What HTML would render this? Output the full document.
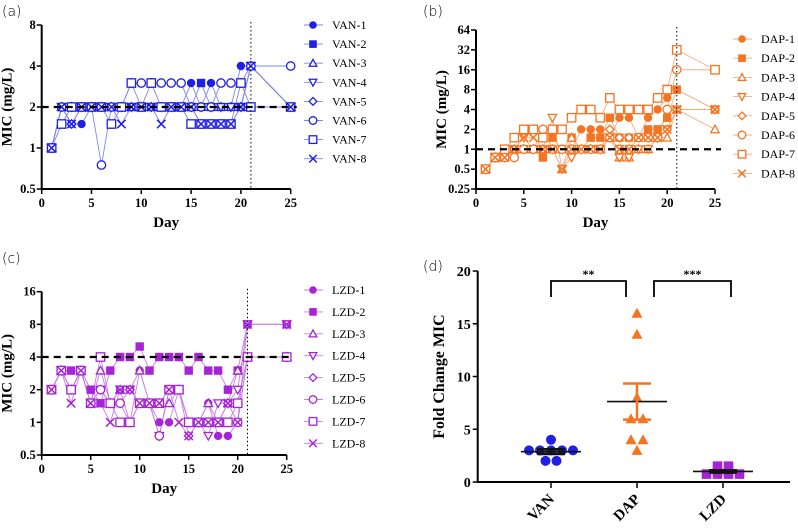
<!DOCTYPE html>
<html><head><meta charset="utf-8"><style>
body{margin:0;background:#fff}
svg{display:block}
.tk{font-family:"Liberation Serif",serif;font-weight:bold;font-size:12.5px}
.tt{font-family:"Liberation Serif",serif;font-weight:bold;font-size:15px}
.lg{font-family:"Liberation Serif",serif;font-size:12px}
.pl{font-family:"DejaVu Sans",sans-serif;font-size:14px;font-weight:200}
</style></head><body>
<svg id="s" width="798" height="529" viewBox="0 0 798 529" xmlns="http://www.w3.org/2000/svg"></svg>
<script>
const days=[1,2,3,4,5,6,7,8,9,10,11,12,13,14,15,16,17,18,19,20,21,25];
const vanNames=["VAN-1","VAN-2","VAN-3","VAN-4","VAN-5","VAN-6","VAN-7","VAN-8"];
const vanData=[
[1,2,1.5,1.5,2,2,2,2,2,2,2,2,2,2,3,2,3,2,2,4,4,2],
[1,2,2,2,2,2,2,2,2,2,2,2,2,2,2,3,2,2,2,2,4,2],
[1,2,2,2,2,2,2,2,2,2,2,2,2,2,2,2,2,2,2,2,4,2],
[1,2,2,2,2,2,2,2,2,2,2,2,2,2,2,2,2,2,2,2,4,2],
[1,2,1.5,2,2,2,2,2,2,2,2,2,2,2,2,1.5,1.5,1.5,1.5,2,4,2],
[1,2,2,2,2,0.75,2,2,3,3,3,3,3,3,2,2,2,3,3,3,4,4],
[1,1.5,2,2,2,2,1.5,2,3,2,3,2,2,2,1.5,1.5,1.5,1.5,1.5,3,2,2],
[1,2,1.5,2,2,2,2,1.5,2,2,2,1.5,2,2,2,1.5,1.5,1.5,1.5,2,4,2]];
const dapNames=["DAP-1","DAP-2","DAP-3","DAP-4","DAP-5","DAP-6","DAP-7","DAP-8"];
const dapData=[
[0.5,0.75,0.75,1,1,1,1,1,1,1,2,2,2,1.5,3,3,1.5,3,4,6,8,4],
[0.5,0.75,0.75,1,1,1,0.75,1.5,1,1.5,1,1.5,1.5,3,1.5,1.5,1.5,2,2,3,8,4],
[0.5,0.75,0.75,1,1,1,1,1,0.5,1.5,1,1,1,1.5,0.75,0.75,1,1,1.5,1.5,4,2],
[0.5,0.75,0.75,1,1.5,1,1,3,0.5,0.75,1,1,1,1.5,0.75,0.75,1,1,1.5,2,4,4],
[0.5,0.75,1,1,1,1,1,1,1,1,1,1,1,2,1.5,1.5,1.5,1.5,1.5,2,4,4],
[0.5,0.75,0.75,0.75,1,1,2,1,1,1,1,1,1,1.5,1,1,1.5,1.5,1.5,4,16,16],
[0.5,0.75,1,1.5,2,2,1.5,2,2,3,4,4,3,6,4,4,4,4,6,8,32,16],
[0.5,0.75,0.75,1,1.5,1.5,1,1,0.5,1,1,1,1,1.5,1,1,1.5,1.5,1.5,2,4,4]];
const lzdNames=["LZD-1","LZD-2","LZD-3","LZD-4","LZD-5","LZD-6","LZD-7","LZD-8"];
const lzdData=[
[2,3,2,3,2,2,1.5,2,2,3,1.5,1,1,2,1,1,1.5,0.75,0.75,1,4,4],
[2,3,3,3,2,1.5,3,4,4,5,3,4,4,4,3,4,3,3,2,3,8,8],
[2,3,2,3,1.5,3,1.5,2,1,3,1.5,1.5,1.5,2,1,1,1.5,1,1.5,3,4,4],
[2,3,2,3,1.5,2,1.5,2,2,1.5,1.5,0.75,2,2,1,1,0.75,1.5,1.5,2,8,8],
[2,3,2,3,1.5,2,1.5,1.5,2,1.5,1.5,0.75,2,2,0.75,1,1,1,1.5,1.5,4,4],
[2,3,2,3,1.5,2,1.5,1.5,1,1.5,1.5,0.75,2,2,1,1,1,1,1,1,4,4],
[2,3,2,3,1.5,4,1.5,1,1,1.5,1.5,1.5,2,2,1,1,1,1,1,1.5,4,4],
[2,3,1.5,3,1.5,1.5,1,2,2,1.5,1.5,1.5,2,1,0.75,1,1,1,1.5,1,8,8]];
const xTicks=[0,5,10,15,20,25];
const vanYTicks=[0.5,1,2,4,8];
const dapYTicks=[0.25,0.5,1,2,4,8,16,32,64];
const lzdYTicks=[0.5,1,2,4,8,16];
const foldCats=["VAN","DAP","LZD"];
const foldVan=[3,3,3,3,3,4,2,2];
const foldDap=[16,14,8,6,6,4,4,3];
const foldLzd=[1.5,1,1.5,1,0.75,0.75,0.75,0.75];
const foldYTicks=[0,5,10,15,20];

const S=document.getElementById('s');
const NS="http://www.w3.org/2000/svg";
function mk(tag,at,par){const e=document.createElementNS(NS,tag);for(const k in at)e.setAttribute(k,at[k]);(par||S).appendChild(e);return e;}

function marker(g,type,x,y,c,r){
  r=r||4.2;let e;
  if(type==0)e=mk('circle',{cx:x,cy:y,r:r,fill:c},g);
  else if(type==1)e=mk('rect',{x:x-r,y:y-r,width:2*r,height:2*r,fill:c},g);
  else if(type==2)e=mk('polygon',{points:`${x},${y-r} ${x+r},${y+r*0.8} ${x-r},${y+r*0.8}`,fill:'#fff',stroke:c,'stroke-width':1.3},g);
  else if(type==3)e=mk('polygon',{points:`${x},${y+r} ${x+r},${y-r*0.8} ${x-r},${y-r*0.8}`,fill:'#fff',stroke:c,'stroke-width':1.3},g);
  else if(type==4)e=mk('polygon',{points:`${x},${y-r} ${x+r},${y} ${x},${y+r} ${x-r},${y}`,fill:'#fff',stroke:c,'stroke-width':1.3},g);
  else if(type==5)e=mk('circle',{cx:x,cy:y,r:r,fill:'#fff',stroke:c,'stroke-width':1.3},g);
  else if(type==6)e=mk('rect',{x:x-r,y:y-r,width:2*r,height:2*r,fill:'#fff',stroke:c,'stroke-width':1.3},g);
  else {e=mk('path',{d:`M${x-r},${y-r}L${x+r},${y+r}M${x+r},${y-r}L${x-r},${y+r}`,stroke:c,'stroke-width':1.5,fill:'none'},g);}
  
  
  return e;
}

function linePanel(o){
  const g=mk('g',{});
  
  
  const lmin=Math.log2(o.ymin),lmax=Math.log2(o.ymax);
  const X=d=>o.x0+(o.x1-o.x0)*d/25;
  const Y=v=>o.yb-(o.yb-o.yt)*(Math.log2(v)-lmin)/(lmax-lmin);
  o.data.forEach((s,i)=>{
    const pl=mk('polyline',{points:s.map((v,j)=>X(days[j])+','+Y(v)).join(' '),fill:'none',stroke:o.lc,'stroke-width':0.9},g);
    
    
  });
  o.data.forEach((s,i)=>s.forEach((v,j)=>marker(g,i,X(days[j]),Y(v),o.c)));
  const ref=mk('line',{x1:o.x0,x2:X(25)+6,y1:Y(o.ref),y2:Y(o.ref),stroke:'#000','stroke-width':2.2,'stroke-dasharray':'7,5'},g);
  
  
  const vl=mk('line',{x1:X(21),x2:X(21),y1:o.yt-3,y2:o.yb,stroke:'#000','stroke-width':1,'stroke-dasharray':'1.5,2.5'},g);
  
  
  const ya=mk('line',{x1:o.x0,x2:o.x0,y1:o.yt,y2:o.yb+1,stroke:'#000','stroke-width':2},g);
  
  
  const xa=mk('line',{x1:o.x0-1,x2:o.x1,y1:o.yb,y2:o.yb,stroke:'#000','stroke-width':2},g);
  
  
  o.yt_.forEach(t=>{
    mk('line',{x1:o.x0-5,x2:o.x0,y1:Y(t),y2:Y(t),stroke:'#000','stroke-width':1.5},g);
    const tx=mk('text',{x:o.x0-6,y:Y(t)+4,'text-anchor':'end',class:'tk'},g);tx.textContent=t;
    
    
  });
  xTicks.forEach(t=>{
    mk('line',{x1:X(t),x2:X(t),y1:o.yb,y2:o.yb+5,stroke:'#000','stroke-width':1.5},g);
    const tx=mk('text',{x:X(t),y:o.yb+18,'text-anchor':'middle',class:'tk'},g);tx.textContent=t;
    
    
  });
  const xt=mk('text',{x:(o.x0+o.x1)/2,y:o.yb+38,'text-anchor':'middle',class:'tt'},g);xt.textContent='Day';
  
  
  const cy=(o.yt+o.yb)/2;
  const yt=mk('text',{x:o.x0-30,y:cy,'text-anchor':'middle',class:'tt',transform:`rotate(-90 ${o.x0-30} ${cy})`},g);yt.textContent='MIC (mg/L)';
  
  
  o.names.forEach((n,i)=>{
    const y=o.ly+i*o.ls;
    const lg=mk('g',{},g);
    
    
    mk('line',{x1:o.lx-9,x2:o.lx+10,y1:y,y2:y,stroke:o.lc,'stroke-width':0.9},lg);
    marker(lg,i,o.lx,y,o.c,3.8);
    const t=mk('text',{x:o.lx+19,y:y+4,class:'lg'},lg);t.textContent=n;
  });
  const pl=mk('text',{x:o.px,y:o.py,class:'pl'},g);pl.textContent=o.label;
  
  
}

linePanel({id:'van',data:vanData,names:vanNames,c:'#1f1fe6',lc:'#7f86f0',x0:41.7,x1:290.7,yt:25,yb:189,ymin:0.5,ymax:8,yt_:vanYTicks,ref:2,lx:313,ly:25,ls:19.1,label:'(a)',px:2,py:16});
linePanel({id:'dap',data:dapData,names:dapNames,c:'#f47421',lc:'#f8ad80',x0:476,x1:715,yt:30,yb:189,ymin:0.25,ymax:64,yt_:dapYTicks,ref:1,lx:742,ly:39,ls:19.2,label:'(b)',px:423,py:16});
linePanel({id:'lzd',data:lzdData,names:lzdNames,c:'#a623d6',lc:'#c67ee6',x0:41.7,x1:286.7,yt:291.7,yb:455,ymin:0.5,ymax:16,yt_:lzdYTicks,ref:4,lx:313,ly:290,ls:21.9,label:'(c)',px:2,py:263});

(function(){
  const g=mk('g',{});
  
  
  const x0=477.7,x1=790,yt=271,yb=482;
  const cx=[551,637,723];
  const Y=v=>yb-(yb-yt)*v/20;
  const groups=[foldVan,foldDap,foldLzd];
  const cols=['#1f1fe6','#f47421','#a623d6'];
  const sp=[11,12,11];
  groups.forEach((arr,gi)=>{
    const counts={};
    arr.forEach(v=>counts[v]=(counts[v]||0)+1);
    const seen={};
    arr.forEach(v=>{
      const k=seen[v]||0;seen[v]=k+1;
      const n=counts[v];
      const x=cx[gi]+(k-(n-1)/2)*sp[gi];
      if(gi==0)marker(g,0,x,Y(v),cols[0],5);
      else if(gi==1){const e=mk('polygon',{points:`${x},${Y(v)-5.5} ${x+5.5},${Y(v)+4.5} ${x-5.5},${Y(v)+4.5}`,fill:cols[1]},g);
        
        }
      else marker(g,1,x,Y(v),cols[2],4.8);
    });
    const m=arr.reduce((a,b)=>a+b,0)/arr.length;
    const sd=Math.sqrt(arr.reduce((a,b)=>a+(b-m)*(b-m),0)/(arr.length-1));
    const se=sd/Math.sqrt(arr.length);
    const ml=mk('line',{x1:cx[gi]-30,x2:cx[gi]+30,y1:Y(m),y2:Y(m),stroke:'#111','stroke-width':1.6},g);
    
    
    const c=gi==1?cols[1]:'#111';
    const eb=mk('path',{d:`M${cx[gi]},${Y(m-se)}V${Y(m+se)}M${cx[gi]-14},${Y(m+se)}H${cx[gi]+14}M${cx[gi]-14},${Y(m-se)}H${cx[gi]+14}`,stroke:c,'stroke-width':2.5,fill:'none'},g);
    
    
  });
  const ya=mk('line',{x1:x0,x2:x0,y1:yt,y2:yb+1,stroke:'#000','stroke-width':2},g);
  
  
  const xa=mk('line',{x1:x0-1,x2:x1,y1:yb,y2:yb,stroke:'#000','stroke-width':2},g);
  
  
  foldYTicks.forEach(t=>{
    mk('line',{x1:x0-5,x2:x0,y1:Y(t),y2:Y(t),stroke:'#000','stroke-width':1.5},g);
    const tx=mk('text',{x:x0-7,y:Y(t)+5,'text-anchor':'end',class:'tk',style:'font-size:14px'},g);tx.textContent=t;
    
    
  });
  foldCats.forEach((c,i)=>{
    mk('line',{x1:cx[i],x2:cx[i],y1:yb,y2:yb+6,stroke:'#000','stroke-width':1.5},g);
    const tx=mk('text',{x:cx[i]+4,y:yb+18,'text-anchor':'end',class:'tt',transform:`rotate(-45 ${cx[i]+4} ${yb+18})`},g);tx.textContent=c;
    
    
  });
  const yt2=mk('text',{x:444,y:(yt+yb)/2,'text-anchor':'middle',class:'tt',style:'font-size:16px',transform:`rotate(-90 444 ${(yt+yb)/2})`},g);yt2.textContent='Fold Change MIC';
  
  
  const br=[[551,626,'**'],[654,731,'***']];
  br.forEach(b=>{
    const p=mk('path',{d:`M${b[0]},${297}V${281}H${b[1]}V${297}`,stroke:'#000','stroke-width':1.8,fill:'none'},g);
    
    
    const t=mk('text',{x:(b[0]+b[1])/2,y:278,'text-anchor':'middle',class:'tt',style:'font-size:12px'},g);t.textContent=b[2];
    
    
  });
  const pl=mk('text',{x:423,y:271,class:'pl'},g);pl.textContent='(d)';
  
  
})();
</script>
</body></html>
